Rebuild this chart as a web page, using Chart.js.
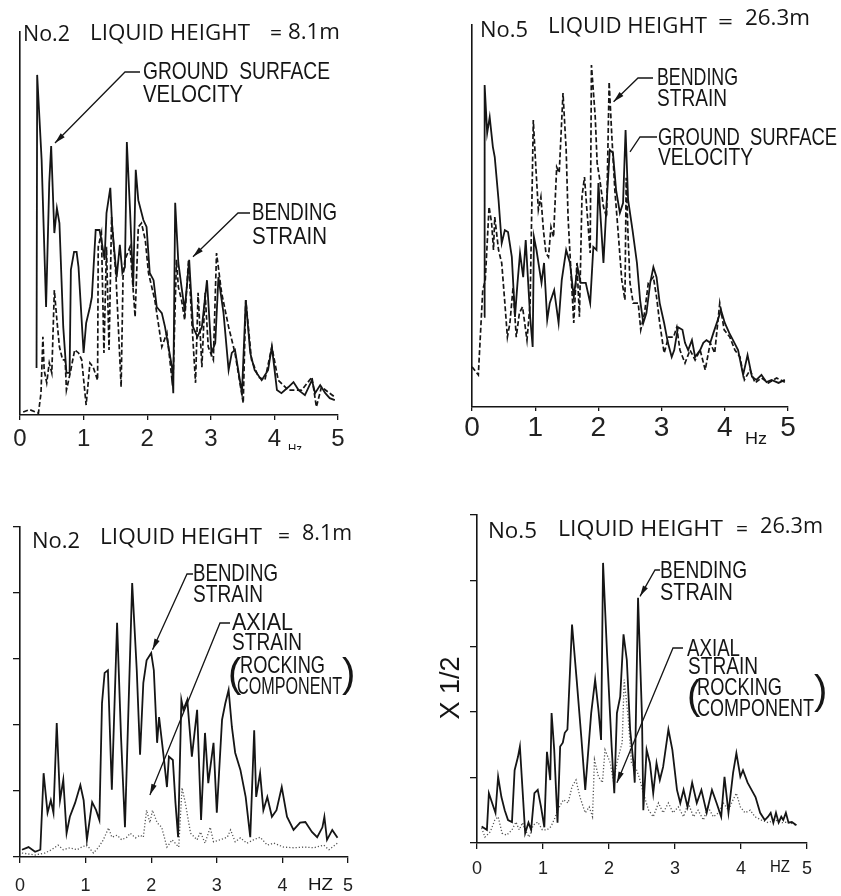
<!DOCTYPE html>
<html><head><meta charset="utf-8">
<script src="https://cdn.jsdelivr.net/npm/chart.js@4.4.1/dist/chart.umd.min.js"></script>
<style>
html,body{margin:0;padding:0;background:#fff;}
#wrap{position:relative;width:841px;height:896px;overflow:hidden;background:#fff;}
.pane{position:absolute;}
canvas{display:block;}
</style></head><body>
<div id="wrap">
<div class="pane" style="left:0;top:0;"><canvas id="c1" width="420" height="450"></canvas></div>
<div class="pane" style="left:420px;top:0;"><canvas id="c2" width="421" height="450"></canvas></div>
<div class="pane" style="left:0;top:450px;"><canvas id="c3" width="420" height="446"></canvas></div>
<div class="pane" style="left:420px;top:450px;"><canvas id="c4" width="421" height="446"></canvas></div>
</div>
<script>
// ---------- DATA (frequency in Hz, amplitude in arbitrary spectral units) ----------
const freqTicks = [0, 1, 2, 3, 4, 5];

// Top-left: No.2, ground surface velocity (solid) & bending strain (dashed)
const topNo2VelocityHz = [0.26,0.27,0.34,0.41,0.46,0.49,0.54,0.58,0.62,0.68,0.73,0.78,0.80,0.85,0.89,0.92,1.00,1.04,1.10,1.13,1.19,1.25,1.28,1.33,1.36,1.42,1.45,1.52,1.57,1.61,1.65,1.68,1.73,1.78,1.82,1.86,1.94,1.99,2.04,2.10,2.15,2.23,2.28,2.39,2.41,2.44,2.49,2.54,2.59,2.66,2.72,2.79,2.86,2.94,3.01,3.07,3.12,3.20,3.28,3.33,3.38,3.49,3.55,3.62,3.69,3.80,3.90,3.96,4.04,4.11,4.22,4.30,4.38,4.48,4.59,4.64,4.72,4.80,4.87,4.95];
const topNo2VelocityAmp = [1.23,8.88,6.66,2.82,6.06,7.02,4.75,5.40,5.01,2.30,1.10,1.10,3.79,4.26,4.26,3.86,1.62,2.40,2.82,3.08,4.83,4.83,4.57,4.05,5.27,5.93,4.91,3.60,4.44,3.71,3.86,7.13,5.35,3.34,6.40,5.61,5.09,4.91,3.71,3.52,2.82,2.66,2.30,1.25,0.57,5.54,3.97,3.34,2.74,4.05,2.30,2.04,2.30,3.52,1.62,1.88,3.60,2.66,1.17,1.62,1.70,0.57,3.00,1.62,1.17,0.91,1.17,1.78,0.65,0.57,0.73,0.86,0.65,0.52,0.91,0.57,0.78,0.57,0.44,0.39];
const topNo2BendingHz = [0.05,0.15,0.29,0.33,0.36,0.38,0.42,0.46,0.50,0.54,0.58,0.62,0.67,0.71,0.73,0.79,0.86,0.92,0.97,1.04,1.10,1.15,1.22,1.23,1.28,1.32,1.36,1.40,1.44,1.51,1.59,1.62,1.65,1.73,1.81,1.86,1.91,1.97,2.02,2.12,2.23,2.31,2.39,2.41,2.46,2.49,2.54,2.59,2.65,2.70,2.76,2.80,2.86,2.91,2.96,3.04,3.09,3.17,3.28,3.38,3.51,3.55,3.64,3.75,3.85,3.96,4.06,4.22,4.43,4.59,4.66,4.74,4.95];
const topNo2BendingAmp = [0.08,0.14,0.05,0.57,2.04,1.17,0.84,1.36,1.10,3.26,2.48,1.78,1.44,1.44,0.65,1.10,1.70,1.62,1.44,0.26,1.36,1.25,0.91,4.39,4.75,1.62,4.39,1.70,5.17,3.60,0.73,3.60,4.05,4.39,2.56,4.91,5.01,4.57,3.71,3.00,1.78,2.14,0.91,1.10,4.05,3.34,3.00,2.48,4.05,2.48,0.84,3.19,1.25,3.19,1.78,1.44,4.23,3.19,2.30,1.62,0.31,3.00,1.44,0.99,0.91,1.78,0.91,0.65,0.65,0.99,0.21,0.73,0.47];

// Top-right: No.5, ground surface velocity (solid) & bending strain (dashed)
const topNo5VelocityHz = [0.19,0.20,0.24,0.28,0.33,0.36,0.42,0.47,0.52,0.57,0.63,0.68,0.72,0.76,0.81,0.85,0.92,0.96,0.98,1.02,1.10,1.14,1.19,1.23,1.30,1.37,1.42,1.49,1.55,1.61,1.67,1.72,1.80,1.87,1.92,1.97,2.00,2.04,2.08,2.13,2.18,2.23,2.28,2.34,2.39,2.43,2.47,2.54,2.61,2.66,2.71,2.76,2.82,2.87,2.92,2.97,3.04,3.10,3.16,3.20,3.26,3.33,3.37,3.42,3.48,3.53,3.61,3.66,3.71,3.77,3.82,3.89,3.94,4.00,4.07,4.13,4.21,4.29,4.36,4.43,4.50,4.58,4.66,4.74,4.85,4.95];
const topNo5VelocityAmp = [2.36,8.43,7.17,7.59,6.81,6.54,5.42,4.29,4.63,4.58,3.93,2.36,3.25,4.03,3.40,4.37,2.36,1.57,4.45,4.11,3.25,3.77,2.28,2.72,3.06,2.20,3.32,4.11,3.77,2.88,3.66,3.25,3.25,2.72,4.19,4.11,5.86,4.82,3.77,5.34,6.73,6.65,5.68,5.08,5.34,7.25,5.42,4.63,3.77,2.80,2.20,2.46,3.25,3.66,3.40,2.72,2.20,1.68,1.31,1.49,2.09,2.02,1.68,1.49,1.75,1.31,1.49,1.68,1.75,1.68,1.94,2.28,2.54,2.20,1.94,1.75,1.49,0.84,1.36,0.79,0.71,0.84,0.65,0.71,0.63,0.71];
const topNo5BendingHz = [0.00,0.10,0.17,0.21,0.27,0.31,0.34,0.36,0.42,0.47,0.52,0.56,0.60,0.65,0.70,0.75,0.80,0.87,0.92,0.97,1.01,1.05,1.09,1.13,1.17,1.21,1.25,1.29,1.34,1.38,1.44,1.49,1.52,1.57,1.61,1.66,1.70,1.74,1.78,1.81,1.87,1.89,1.95,1.98,2.03,2.08,2.13,2.17,2.21,2.26,2.31,2.37,2.42,2.44,2.47,2.50,2.55,2.63,2.67,2.73,2.79,2.87,2.92,2.97,3.04,3.11,3.19,3.24,3.29,3.37,3.45,3.53,3.61,3.69,3.77,3.84,3.92,3.99,4.08,4.16,4.24,4.31,4.40,4.48,4.58,4.69,4.82,4.95];
const topNo5BendingAmp = [1.05,0.84,3.06,3.32,5.24,4.82,4.11,4.97,4.11,3.77,2.72,1.83,2.20,3.14,1.83,2.46,2.62,1.75,2.72,7.51,6.28,5.16,5.50,4.63,4.03,3.93,4.71,4.45,6.28,6.13,8.22,6.73,4.97,3.40,2.20,3.77,2.36,5.50,6.02,5.34,4.03,8.95,7.59,6.39,5.86,5.24,4.97,8.51,7.17,5.68,4.63,3.32,2.80,6.00,4.45,3.25,2.72,2.72,2.02,2.46,3.25,3.40,2.88,2.20,1.41,1.83,1.83,2.09,1.49,1.15,1.49,1.23,1.49,0.97,1.68,1.41,2.72,2.02,1.83,1.49,1.31,0.71,0.97,0.63,0.76,0.63,0.76,0.65];

// Bottom-left: No.2, bending strain (solid) & axial strain, rocking component (dotted)
const botNo2BendingHz = [0.03,0.13,0.23,0.31,0.36,0.42,0.47,0.51,0.56,0.61,0.66,0.71,0.76,0.84,0.92,0.97,1.02,1.10,1.16,1.21,1.25,1.29,1.34,1.40,1.48,1.54,1.60,1.71,1.78,1.83,1.88,1.93,2.00,2.04,2.09,2.12,2.19,2.24,2.27,2.33,2.37,2.41,2.46,2.49,2.55,2.62,2.70,2.76,2.82,2.87,2.95,3.00,3.08,3.13,3.18,3.23,3.28,3.36,3.44,3.51,3.57,3.60,3.66,3.71,3.77,3.84,3.91,3.99,4.07,4.17,4.27,4.35,4.45,4.53,4.61,4.64,4.68,4.76,4.84];
const botNo2BendingAmp = [0.11,0.15,0.08,0.11,1.27,0.67,0.86,0.67,2.03,0.86,1.17,0.36,0.61,0.82,1.09,0.86,0.26,0.83,0.71,0.56,2.33,2.79,2.83,1.02,3.55,1.82,0.45,4.15,2.83,1.55,2.64,2.98,3.09,2.83,1.73,2.12,1.52,1.06,1.52,1.47,0.82,0.30,2.38,2.23,2.38,1.52,2.23,0.56,1.88,1.12,1.73,0.67,2.08,2.33,2.53,1.97,1.58,1.32,0.91,0.30,1.92,0.91,1.27,0.71,0.91,0.61,0.71,1.06,0.61,0.41,0.52,0.53,0.38,0.30,0.45,0.61,0.26,0.41,0.29];
const botNo2AxialHz = [0.03,0.23,0.38,0.48,0.58,0.66,0.76,0.87,0.94,1.02,1.12,1.20,1.27,1.35,1.40,1.48,1.55,1.63,1.68,1.76,1.83,1.88,1.93,1.98,2.02,2.09,2.16,2.24,2.32,2.42,2.47,2.52,2.60,2.70,2.75,2.82,2.90,2.95,3.05,3.16,3.21,3.28,3.36,3.46,3.56,3.66,3.77,3.87,4.02,4.17,4.33,4.48,4.63,4.71,4.84];
const botNo2AxialAmp = [0.06,0.03,0.06,0.11,0.18,0.11,0.14,0.11,0.15,0.18,0.06,0.15,0.26,0.44,0.30,0.33,0.26,0.30,0.36,0.29,0.33,0.30,0.71,0.52,0.71,0.52,0.45,0.15,0.26,0.15,1.05,0.82,0.36,0.26,0.38,0.21,0.45,0.23,0.26,0.30,0.41,0.23,0.29,0.21,0.26,0.30,0.18,0.21,0.15,0.14,0.15,0.14,0.18,0.11,0.21];

// Bottom-right: No.5 (x 1/2), bending strain (solid) & axial strain, rocking component (dotted)
const botNo5BendingHz = [0.07,0.15,0.18,0.25,0.28,0.32,0.37,0.42,0.47,0.53,0.57,0.62,0.65,0.69,0.73,0.78,0.82,0.87,0.92,0.97,1.02,1.06,1.11,1.13,1.17,1.22,1.26,1.30,1.33,1.37,1.44,1.51,1.58,1.64,1.73,1.79,1.84,1.88,1.91,1.97,2.04,2.08,2.12,2.17,2.22,2.27,2.32,2.37,2.39,2.44,2.50,2.52,2.57,2.62,2.67,2.72,2.77,2.82,2.90,2.96,3.03,3.08,3.13,3.19,3.26,3.33,3.40,3.48,3.56,3.63,3.70,3.75,3.81,3.88,3.93,3.99,4.03,4.10,4.16,4.22,4.29,4.36,4.41,4.45,4.49,4.53,4.57,4.61,4.64,4.68,4.72,4.77,4.84];
const botNo5BendingAmp = [0.25,0.20,0.76,0.55,0.46,1.01,0.70,0.50,0.35,0.32,1.11,1.31,1.47,0.81,0.15,0.31,0.20,0.76,0.81,0.55,0.24,1.39,0.96,1.98,1.42,0.31,1.47,1.53,1.68,1.73,3.33,2.49,1.62,0.81,1.98,2.49,2.03,1.57,4.27,2.90,1.47,0.76,1.98,2.23,3.18,2.79,1.73,1.22,0.92,3.74,1.92,0.50,1.42,1.22,0.76,1.22,0.96,1.16,1.73,1.42,0.81,0.61,0.81,0.55,0.92,0.61,0.81,0.46,0.81,0.61,0.40,1.01,0.46,1.07,1.37,1.01,1.11,0.92,0.81,0.70,0.46,0.35,0.40,0.46,0.31,0.46,0.31,0.40,0.35,0.46,0.31,0.32,0.27];
const botNo5AxialHz = [0.07,0.12,0.20,0.27,0.32,0.38,0.45,0.53,0.59,0.64,0.69,0.73,0.79,0.85,0.92,0.99,1.06,1.12,1.18,1.22,1.31,1.38,1.44,1.50,1.56,1.64,1.70,1.75,1.78,1.84,1.90,1.94,2.02,2.07,2.12,2.17,2.20,2.23,2.29,2.34,2.42,2.47,2.52,2.60,2.67,2.75,2.82,2.90,2.97,3.05,3.13,3.20,3.28,3.35,3.43,3.50,3.58,3.66,3.73,3.81,3.88,3.93,3.99,4.06,4.14,4.21,4.31,4.41,4.52,4.62,4.72,4.84];
const botNo5AxialAmp = [0.23,0.09,0.17,0.35,0.40,0.15,0.12,0.20,0.32,0.20,0.31,0.20,0.09,0.27,0.32,0.20,0.20,0.25,0.38,0.50,0.66,0.61,0.86,0.96,0.70,0.46,0.55,0.40,1.27,1.01,0.92,1.42,1.22,0.92,1.22,1.42,1.53,2.49,1.92,1.22,1.11,0.96,0.76,0.50,0.40,0.61,0.46,0.61,0.46,0.55,0.40,0.61,0.40,0.50,0.35,0.55,0.40,0.46,0.61,0.50,0.66,0.76,0.55,0.46,0.50,0.40,0.35,0.31,0.35,0.31,0.32,0.27];

// ---------- STYLES ----------
const INK = '#151515';
const TITLE = '22px "Open Sans", "Noto Sans", sans-serif';
const LBL = '24px "Liberation Sans Narrow", "Liberation Sans", Arial, sans-serif';
const PAREN = '40px "Liberation Sans", Arial, sans-serif';
const SOLID = {color: INK, width: 1.8, dash: []};
const DASHED = {color: INK, width: 1.7, dash: [5, 2.5]};
const DOTTED = {color: '#555', width: 1.3, dash: [1.2, 2]};

function zip(xs, ys){
  const n = Math.min(xs.length, ys.length), out = [];
  for (let i = 0; i < n; i++) out.push({x: xs[i], y: ys[i]});
  return out;
}

function annotPlugin(spec){
  return {
    id: 'annot',
    afterDraw(chart){
      const ctx = chart.ctx, xs = chart.scales.x, ys = chart.scales.y;
      ctx.save();
      ctx.fillStyle = INK; ctx.strokeStyle = INK;
      ctx.textBaseline = 'middle'; ctx.textAlign = 'left';
      (spec.leaders || []).forEach(l => {
        const tx = xs.getPixelForValue(l.tip[0]), ty = ys.getPixelForValue(l.tip[1]);
        ctx.lineWidth = 1.3; ctx.setLineDash([]);
        ctx.beginPath(); ctx.moveTo(l.a[0], l.a[1]); ctx.lineTo(l.b[0], l.b[1]); ctx.lineTo(tx, ty); ctx.stroke();
        if (l.arrow){
          const ang = Math.atan2(ty - l.b[1], tx - l.b[0]), L = 11, W = 2.8;
          const bx = tx - L*Math.cos(ang), by = ty - L*Math.sin(ang);
          ctx.beginPath(); ctx.moveTo(tx, ty);
          ctx.lineTo(bx + W*Math.sin(ang), by - W*Math.cos(ang));
          ctx.lineTo(bx - W*Math.sin(ang), by + W*Math.cos(ang));
          ctx.closePath(); ctx.fill();
        }
      });
      (spec.texts || []).forEach(t => {
        ctx.save();
        ctx.font = t.font || LBL;
        if (t.rot){
          ctx.translate(t.x, t.y); ctx.rotate(t.rot); ctx.textAlign = 'center'; ctx.fillText(t.s, 0, 0);
        } else {
          ctx.translate(t.x, t.y);
          if (t.w){ const w = ctx.measureText(t.s).width; ctx.scale(t.w / w, 1); }
          ctx.fillText(t.s, 0, 0);
        }
        ctx.restore();
      });
      ctx.restore();
    }
  };
}

function makeChart(id, cfg){
  const cv = document.getElementById(id);
  const W = cv.width, H = cv.height, A = cfg.area;
  new Chart(cv, {
    type: 'line',
    data: {datasets: cfg.series.map(s => ({
      data: zip(s.hz, s.amp), borderColor: s.style.color, borderWidth: s.style.width,
      borderDash: s.style.dash, pointRadius: 0, tension: 0, fill: false, borderJoinStyle: 'miter'
    }))},
    options: {
      responsive: false, animation: false, events: [],
      layout: {padding: {left: A.left, right: W - A.right, top: A.top, bottom: 0}},
      plugins: {legend: {display: false}, tooltip: {enabled: false}},
      scales: {
        x: {
          type: 'linear', min: 0, max: 5,
          afterFit: s => { s.height = H - A.bottom; },
          afterBuildTicks: s => { s.ticks = freqTicks.map(v => ({value: v})); },
          ticks: {font: {size: cfg.tickFont, family: '"Liberation Sans", Arial, sans-serif'}, color: '#222',
                  padding: cfg.tickPad, maxRotation: 0, autoSkip: false, callback: v => String(v)},
          grid: {display: true, drawOnChartArea: false, drawTicks: true, tickLength: cfg.tickLen, color: INK, lineWidth: 1.3},
          border: {display: true, color: INK, width: 1.6}
        },
        y: {
          type: 'linear', min: 0, max: cfg.ymax,
          afterFit: s => { s.width = 0; },
          ticks: {display: false, stepSize: 1},
          grid: {display: cfg.yTicks, drawOnChartArea: false, drawTicks: true, tickLength: 7, color: INK, lineWidth: 1.3},
          border: {display: true, color: INK, width: 1.6}
        }
      }
    },
    plugins: [annotPlugin(cfg.annot)]
  });
}

// Top-left
makeChart('c1', {
  area: {left: 20, right: 338, top: 32, bottom: 415}, ymax: 10, yTicks: false,
  tickFont: 24, tickPad: 5, tickLen: 5,
  series: [
    {hz: topNo2VelocityHz, amp: topNo2VelocityAmp, style: SOLID},
    {hz: topNo2BendingHz, amp: topNo2BendingAmp, style: DASHED}
  ],
  annot: {
    texts: [
      {s: 'No.2', x: 23, y: 35, w: 47, font: TITLE},
      {s: 'LIQUID HEIGHT', x: 90, y: 34, w: 160, font: TITLE},
      {s: '=', x: 270, y: 34, w: 12, font: TITLE},
      {s: '8.1m', x: 288, y: 33, w: 52, font: TITLE},
      {s: 'GROUND  SURFACE', x: 143, y: 72, w: 187},
      {s: 'VELOCITY', x: 143, y: 95, w: 100},
      {s: 'BENDING', x: 252, y: 213, w: 85},
      {s: 'STRAIN', x: 252, y: 237, w: 75},
      {s: 'Hz', x: 288, y: 449, w: 14, font: '13px "Liberation Sans", Arial'}
    ],
    leaders: [
      {a: [140, 72], b: [125, 72], tip: [0.55, 7.1], arrow: true},
      {a: [250, 213], b: [238, 213], tip: [2.72, 4.13], arrow: true}
    ]
  }
});

// Top-right
makeChart('c2', {
  area: {left: 52, right: 368, top: 25, bottom: 407}, ymax: 10, yTicks: false,
  tickFont: 28, tickPad: 0, tickLen: 4,
  series: [
    {hz: topNo5VelocityHz, amp: topNo5VelocityAmp, style: SOLID},
    {hz: topNo5BendingHz, amp: topNo5BendingAmp, style: DASHED}
  ],
  annot: {
    texts: [
      {s: 'No.5', x: 60, y: 31, w: 48, font: TITLE},
      {s: 'LIQUID HEIGHT', x: 128, y: 27, w: 159, font: TITLE},
      {s: '=', x: 298, y: 23, w: 15, font: TITLE},
      {s: '26.3m', x: 325, y: 19, w: 65, font: TITLE},
      {s: 'BENDING', x: 237, y: 78, w: 81},
      {s: 'STRAIN', x: 237, y: 99, w: 70},
      {s: 'GROUND  SURFACE', x: 238, y: 138, w: 179},
      {s: 'VELOCITY', x: 238, y: 158, w: 95},
      {s: 'Hz', x: 325, y: 440, w: 22, font: '16px "Liberation Sans", Arial'}
    ],
    leaders: [
      {a: [233, 78], b: [218, 78], tip: [2.24, 7.99], arrow: true},
      {a: [237, 137], b: [220, 137], tip: [2.50, 6.68], arrow: false}
    ]
  }
});

// Bottom-left
makeChart('c3', {
  area: {left: 20, right: 348, top: 77, bottom: 407}, ymax: 5, yTicks: true,
  tickFont: 18, tickPad: 12, tickLen: 6,
  series: [
    {hz: botNo2BendingHz, amp: botNo2BendingAmp, style: SOLID},
    {hz: botNo2AxialHz, amp: botNo2AxialAmp, style: DOTTED}
  ],
  annot: {
    texts: [
      {s: 'No.2', x: 32, y: 92, w: 48, font: TITLE},
      {s: 'LIQUID HEIGHT', x: 100, y: 88, w: 162, font: TITLE},
      {s: '=', x: 278, y: 87, w: 12, font: TITLE},
      {s: '8.1m', x: 302, y: 84, w: 50, font: TITLE},
      {s: 'BENDING', x: 193, y: 124, w: 85},
      {s: 'STRAIN', x: 193, y: 145, w: 70},
      {s: 'AXIAL', x: 232, y: 173, w: 61},
      {s: 'STRAIN', x: 232, y: 193, w: 70},
      {s: 'ROCKING', x: 240, y: 216, w: 85},
      {s: 'COMPONENT', x: 237, y: 237, w: 105},
      {s: '(', x: 228, y: 226, font: PAREN},
      {s: ')', x: 342, y: 226, font: PAREN},
      {s: 'HZ', x: 308, y: 436, w: 25, font: '16px "Liberation Sans", Arial'}
    ],
    leaders: [
      {a: [193, 124], b: [187, 124], tip: [2.02, 3.14], arrow: true},
      {a: [230, 173], b: [220, 173], tip: [1.98, 0.94], arrow: true}
    ]
  }
});

// Bottom-right
makeChart('c4', {
  area: {left: 57, right: 387, top: 65, bottom: 393}, ymax: 5, yTicks: true,
  tickFont: 18, tickPad: 9, tickLen: 6,
  series: [
    {hz: botNo5BendingHz, amp: botNo5BendingAmp, style: SOLID},
    {hz: botNo5AxialHz, amp: botNo5AxialAmp, style: DOTTED}
  ],
  annot: {
    texts: [
      {s: 'No.5', x: 68, y: 82, w: 49, font: TITLE},
      {s: 'LIQUID HEIGHT', x: 138, y: 80, w: 165, font: TITLE},
      {s: '=', x: 316, y: 80, w: 12, font: TITLE},
      {s: '26.3m', x: 340, y: 77, w: 63, font: TITLE},
      {s: 'BENDING', x: 240, y: 121, w: 87},
      {s: 'STRAIN', x: 240, y: 143, w: 73},
      {s: 'AXIAL', x: 267, y: 199, w: 53},
      {s: 'STRAIN', x: 268, y: 217, w: 70},
      {s: 'ROCKING', x: 277, y: 238, w: 85},
      {s: 'COMPONENT', x: 277, y: 259, w: 117},
      {s: '(', x: 267, y: 248, font: PAREN},
      {s: ')', x: 394, y: 243, font: PAREN},
      {s: 'X 1/2', x: 32, y: 238, rot: -Math.PI / 2, font: '27px "Liberation Sans", Arial'},
      {s: 'HZ', x: 350, y: 418, w: 20, font: '16px "Liberation Sans", Arial'}
    ],
    leaders: [
      {a: [240, 120], b: [235, 120], tip: [2.47, 3.76], arrow: true},
      {a: [263, 198], b: [253, 198], tip: [2.12, 0.92], arrow: true}
    ]
  }
});
</script>
</body></html>
